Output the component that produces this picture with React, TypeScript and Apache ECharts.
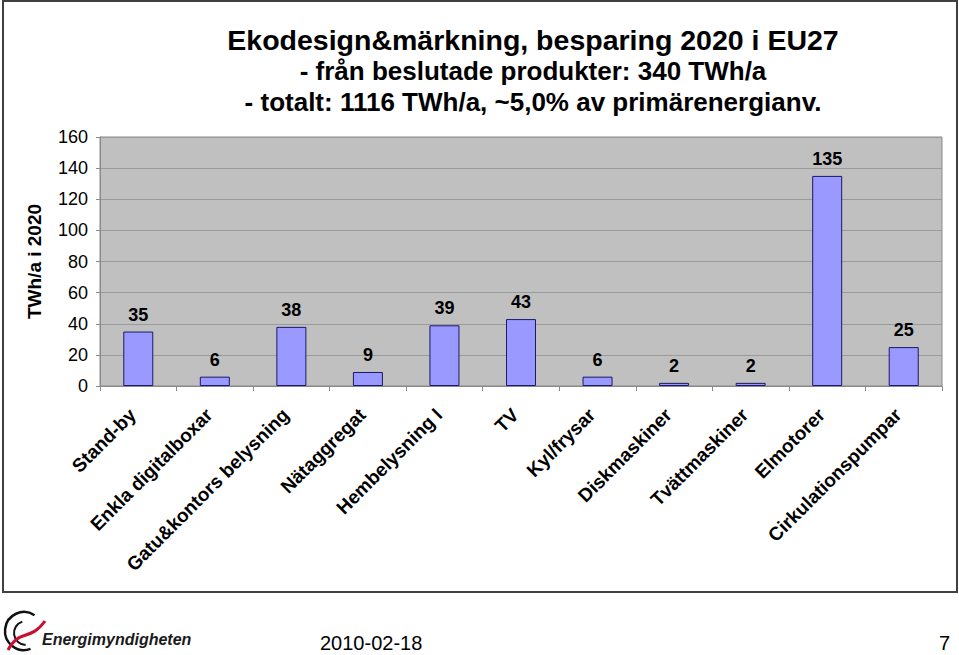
import React, { useEffect, useRef } from "react";
import * as echarts from "echarts";

const categories = [
  "Stand-by",
  "Enkla digitalboxar",
  "Gatu&kontors belysning",
  "Nätaggregat",
  "Hembelysning I",
  "TV",
  "Kyl/frysar",
  "Diskmaskiner",
  "Tvättmaskiner",
  "Elmotorer",
  "Cirkulationspumpar",
];
const savings = [35, 6, 38, 9, 39, 43, 6, 2, 2, 135, 25];
const titleMain = "Ekodesign&märkning, besparing 2020 i EU27";
const titleSubLines = [
  "- från beslutade produkter: 340 TWh/a",
  "- totalt: 1116 TWh/a, ~5,0% av primärenergianv.",
];
const yAxisName = "TWh/a i 2020";
const footerDate = "2010-02-18";
const pageNumber = "7";
const logoText = "Energimyndigheten";

const FONT = "Arial, 'Liberation Sans', Helvetica, sans-serif";

export default function App() {
  const ref = useRef<HTMLDivElement>(null);
  useEffect(() => {
    if (!ref.current) return;
    const chart = echarts.init(ref.current, undefined, { renderer: "svg" });
    chart.setOption({
      animation: false,
      backgroundColor: "#ffffff",
      title: {
        text: titleMain,
        subtext: titleSubLines.join("\n"),
        left: 528,
        top: 19,
        textAlign: "center",
        itemGap: 0,
        textStyle: {
          fontFamily: FONT,
          fontWeight: "bold",
          fontSize: 28.5,
          lineHeight: 31,
          color: "#000",
        },
        subtextStyle: {
          fontFamily: FONT,
          fontWeight: "bold",
          fontSize: 26,
          lineHeight: 31,
          color: "#000",
        },
      },
      grid: {
        left: 100,
        right: 17,
        top: 137,
        bottom: 269,
        show: true,
        backgroundColor: "#C0C0C0",
        borderColor: "#8a8a8a",
        borderWidth: 1,
      },
      xAxis: {
        type: "category",
        data: categories,
        axisLine: { lineStyle: { color: "#8a8a8a" } },
        axisTick: { show: true, length: 5, lineStyle: { color: "#8a8a8a" } },
        axisLabel: {
          interval: 0,
          rotate: 45,
          margin: 20,
          padding: [0, 8, 0, 0],
          fontFamily: FONT,
          fontWeight: "bold",
          fontSize: 19,
          color: "#000",
        },
      },
      yAxis: {
        type: "value",
        min: 0,
        max: 160,
        interval: 20,
        name: yAxisName,
        nameLocation: "middle",
        nameRotate: 90,
        nameGap: 56,
        nameTextStyle: {
          fontFamily: FONT,
          fontWeight: "bold",
          fontSize: 19,
          color: "#000",
        },
        axisLine: { show: true, lineStyle: { color: "#8a8a8a" } },
        axisTick: { show: true, length: 4, lineStyle: { color: "#8a8a8a" } },
        splitLine: { lineStyle: { color: "#9a9a9a" } },
        axisLabel: {
          margin: 12,
          fontFamily: FONT,
          fontSize: 18,
          color: "#000",
        },
      },
      series: [
        {
          type: "bar",
          data: savings,
          barWidth: 30,
          itemStyle: {
            color: "#9999FF",
            borderColor: "#1a1a66",
            borderWidth: 1,
          },
          label: {
            show: true,
            position: "top",
            distance: 8,
            fontFamily: FONT,
            fontWeight: "bold",
            fontSize: 18,
            color: "#000",
          },
        },
      ],
      graphic: [
        {
          type: "rect",
          shape: { x: 3, y: 1, width: 954, height: 591 },
          style: { fill: "none", stroke: "#404040", lineWidth: 2 },
          silent: true,
        },
        {
          type: "arc",
          shape: { cx: 24, cy: 631, r: 19, startAngle: 1.22, endAngle: 5.3, clockwise: true },
          style: { fill: "none", stroke: "#111", lineWidth: 2.5 },
        },
        {
          type: "arc",
          shape: { cx: 26, cy: 633, r: 12, startAngle: 1.6, endAngle: 4.4, clockwise: true },
          style: { fill: "none", stroke: "#111", lineWidth: 2 },
        },
        {
          type: "bezierCurve",
          shape: { x1: 8, y1: 650, cpx1: 20, cpy1: 628, cpx2: 30, cpy2: 642, x2: 45, y2: 621 },
          style: { fill: "none", stroke: "#c8102e", lineWidth: 3 },
        },
        {
          type: "text",
          x: 42,
          y: 639,
          style: {
            text: logoText,
            fontFamily: FONT,
            fontStyle: "italic",
            fontWeight: 600,
            fontSize: 16,
            fill: "#1a1a1a",
            verticalAlign: "middle",
          },
        },
        {
          type: "text",
          x: 320,
          y: 643,
          style: {
            text: footerDate,
            fontFamily: FONT,
            fontSize: 20,
            fill: "#000",
            verticalAlign: "middle",
          },
        },
        {
          type: "text",
          x: 939,
          y: 643,
          style: {
            text: pageNumber,
            fontFamily: FONT,
            fontSize: 20,
            fill: "#000",
            verticalAlign: "middle",
          },
        },
      ],
    });
    return () => chart.dispose();
  }, []);
  return (
    <div
      ref={ref}
      style={{ position: "absolute", left: 0, top: 0, width: 959, height: 655 }}
    />
  );
}
